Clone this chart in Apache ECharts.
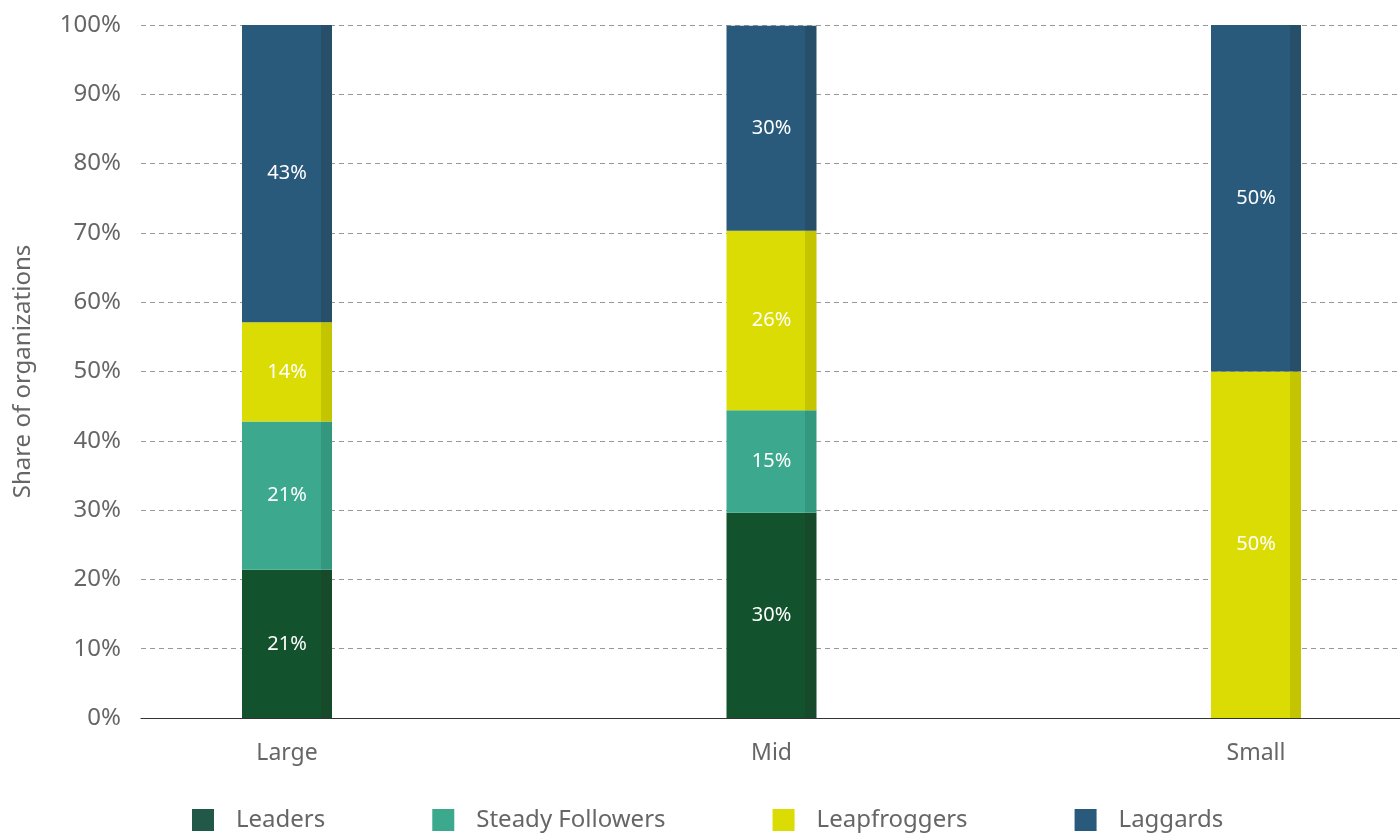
<!DOCTYPE html>
<html>
<head>
<meta charset="utf-8">
<script src="https://cdn.jsdelivr.net/npm/echarts@6/dist/echarts.min.js"></script>
<style>html,body{margin:0;padding:0;background:#fff}#c{width:1400px;height:834px}</style>
</head>
<body>
<div id="c"></div>
<script>
const categories = ['Large', 'Mid', 'Small'];
const seriesNames = ['Leaders', 'Steady Followers', 'Leapfroggers', 'Laggards'];
const leaders = [21.4, 29.6, 0];
const steadyFollowers = [21.4, 14.8, 0];
const leapfroggers = [14.3, 25.9, 50];
const laggards = [42.9, 29.6, 50];
const yTicks = [0, 10, 20, 30, 40, 50, 60, 70, 80, 90, 100];

const values = [leaders, steadyFollowers, leapfroggers, laggards];
const mainColors = ['#12532d', '#3ca98e', '#dcdc05', '#295a7c'];
const stripColors = ['#164a2a', '#34987f', '#c4c400', '#274f6a'];
const legendColors = ['#215847', '#3ca98e', '#dcdc05', '#295a7c'];
const FONT = '"Noto Sans", sans-serif';

function grad(c, d) {
  return new echarts.graphic.LinearGradient(0, 0, 1, 0, [
    {offset: 0, color: c}, {offset: 0.875, color: c},
    {offset: 0.875, color: d}, {offset: 1, color: d}
  ]);
}

const chart = echarts.init(document.getElementById('c'));
chart.setOption({
  animation: false,
  textStyle: {fontFamily: FONT},
  grid: [
    {left: 141, right: 0, top: 25, bottom: 116},
    {left: 287, right: 144, top: 25, bottom: 116}
  ],
  legend: {
    bottom: -3, left: 187,
    itemWidth: 22, itemHeight: 22, itemGap: 107,
    textStyle: {fontSize: 24, color: '#666', fontFamily: FONT, padding: [0, 0, 0, 17]},
    data: seriesNames.map((n, i) => ({name: n, icon: 'rect', itemStyle: {color: legendColors[i]}}))
  },
  xAxis: [
    {type: 'value', gridIndex: 0, min: 0, max: 1, axisLabel: {show: false}, axisTick: {show: false},
     splitLine: {show: false}, axisLine: {show: true, lineStyle: {color: '#333', width: 1.2}}},
    {type: 'category', gridIndex: 1, data: categories, boundaryGap: false,
     axisLine: {show: false}, axisTick: {show: false},
     axisLabel: {fontSize: 23, color: '#666', margin: 24, fontFamily: FONT}}
  ],
  yAxis: [
    {type: 'value', gridIndex: 0, min: 0, max: 100, interval: 10,
     name: 'Share of organizations', nameLocation: 'middle', nameGap: 106,
     nameTextStyle: {fontSize: 24, color: '#666', fontFamily: FONT},
     axisLine: {show: false}, axisTick: {show: false},
     axisLabel: {fontSize: 24, color: '#666', margin: 20, fontFamily: FONT,
       formatter: v => yTicks.includes(v) ? v + '%' : ''},
     splitLine: {show: true, lineStyle: {color: '#999', type: [5, 4], width: 1}}},
    {type: 'value', gridIndex: 1, min: 0, max: 100, show: false}
  ],
  series: seriesNames.map((n, i) => ({
    name: n, type: 'bar', stack: 'total', xAxisIndex: 1, yAxisIndex: 1,
    barWidth: 90, clip: false,
    itemStyle: {color: grad(mainColors[i], stripColors[i])},
    label: {show: true, position: 'inside', color: '#fff', fontSize: 20, fontFamily: FONT,
      formatter: p => p.value > 0 ? Math.round(p.value) + '%' : ''},
    emphasis: {disabled: true},
    data: values[i]
  }))
});
</script>
</body>
</html>
